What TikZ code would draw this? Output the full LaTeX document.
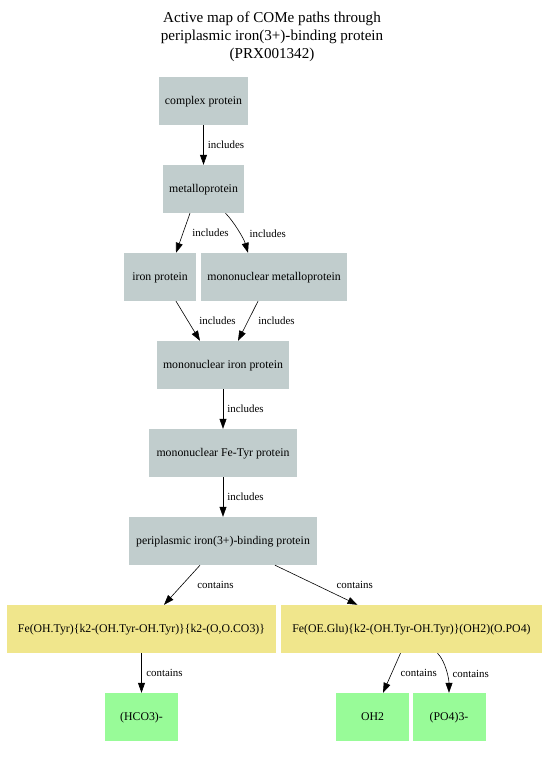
\documentclass[tikz,border=0pt]{standalone}
\usepackage{fontspec}
\setmainfont{Liberation Serif}
\usetikzlibrary{arrows.meta,calc}
\definecolor{gbox}{HTML}{C1CDCD}
\definecolor{ybox}{HTML}{F0E68C}
\definecolor{pbox}{HTML}{98FB98}
\tikzset{
  box/.style={rectangle, inner sep=0pt, font=\fontsize{11.8}{14}\selectfont, text height=8.5pt, text depth=1.5pt},
  grey/.style={box, fill=gbox},
  yel/.style={box, fill=ybox},
  grn/.style={box, fill=pbox},
  lbl/.style={anchor=west, inner sep=0pt, font=\fontsize{10.9}{13}\selectfont},
  arr/.style={draw=black, -{Triangle[length=10pt,width=7pt]}, line width=0.6pt},
}
\begin{document}
\begin{tikzpicture}[x=1pt,y=-1pt]
\useasboundingbox (0,0) rectangle (545,758);
\node[align=center, font=\fontsize{15.1}{18}\selectfont] (title) at (272,37) {Active map of COMe paths through\\periplasmic iron(3+)-binding protein\\(PRX001342)};
\node[grey, minimum width=89, minimum height=48] (cp) at (203.5,101) {complex protein};
\node[grey, minimum width=81, minimum height=48] (mp) at (203.5,189) {metalloprotein};
\node[grey, minimum width=72, minimum height=48] (ip) at (160,277) {iron protein};
\node[grey, minimum width=146, minimum height=48] (mmp) at (274,277) {mononuclear metalloprotein};
\node[grey, minimum width=132, minimum height=48] (mip) at (223,365) {mononuclear iron protein};
\node[grey, minimum width=148, minimum height=48] (ftp) at (223,453) {mononuclear Fe-Tyr protein};
\node[grey, minimum width=188, minimum height=48] (pib) at (223,541) {periplasmic iron(3+)-binding protein};
\node[yel, minimum width=269, minimum height=48] (foh) at (141.5,629) {Fe(OH.Tyr)\{k2-(OH.Tyr-OH.Tyr)\}\{k2-(O,O.CO3)\}};
\node[yel, minimum width=261, minimum height=48] (foe) at (411.5,629) {Fe(OE.Glu)\{k2-(OH.Tyr-OH.Tyr)\}(OH2)(O.PO4)};
\node[grn, minimum width=73, minimum height=48] (hco) at (141.5,717) {(HCO3)-};
\node[grn, minimum width=73, minimum height=48] (oh) at (372.5,717) {OH2};
\node[grn, minimum width=73, minimum height=48] (po) at (449,717) {(PO4)3-};

\draw[arr] (cp.south) -- node[lbl, xshift=4] {includes} (mp.north);
\draw[arr] ($(mp.south)+(-13.5,0)$) -- node[lbl, xshift=9] {includes} ($(ip.north)+(16,0)$);
\draw[arr] ($(mp.south)+(22,0)$) .. controls +(8,8) and +(-4,-14) .. node[lbl, xshift=11, yshift=-3] {includes} ($(mmp.north)+(-26,0)$);
\draw[arr] ($(ip.south)+(16,0)$) -- node[lbl, xshift=11] {includes} ($(mip.north)+(-23,0)$);
\draw[arr] ($(mmp.south)+(-16,0)$) -- node[lbl, xshift=10] {includes} ($(mip.north)+(15,0)$);
\draw[arr] (mip.south) -- node[lbl, xshift=4] {includes} (ftp.north);
\draw[arr] (ftp.south) -- node[lbl, xshift=4] {includes} (pib.north);
\draw[arr] ($(pib.south)+(-23,0)$) -- node[lbl, xshift=15] {contains} ($(foh.north)+(22.5,0)$);
\draw[arr] ($(pib.south)+(52,0)$) -- node[lbl, xshift=20] {contains} ($(foe.north)+(-54,0)$);
\draw[arr] (foh.south) -- node[lbl, xshift=4.5] {contains} (hco.north);
\draw[arr] ($(foe.south)+(-11,0)$) -- node[lbl, xshift=8.5] {contains} ($(oh.north)+(10.5,0)$);
\draw[arr] ($(foe.south)+(26,0)$) .. controls +(8,8) and +(0,-14) .. node[lbl, xshift=6, yshift=-3] {contains} (po.north);
\end{tikzpicture}
\end{document}
